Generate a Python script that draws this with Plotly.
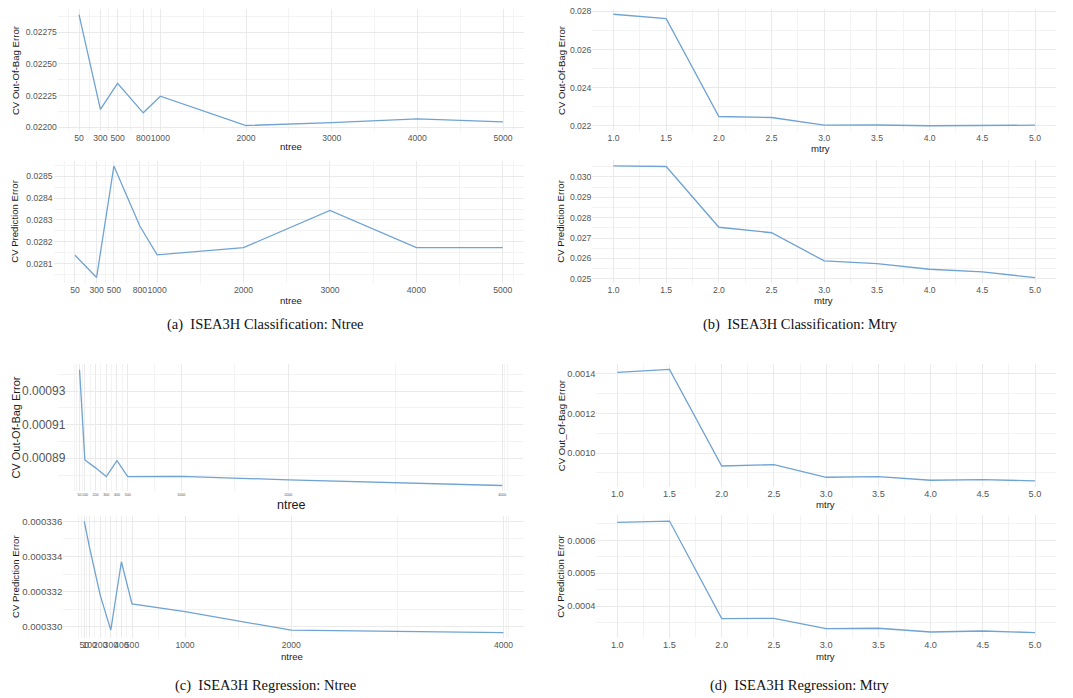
import plotly.graph_objects as go

W, H = 1073, 698

# ---------------- data ----------------
ntree_cls = [50, 300, 500, 800, 1000, 2000, 3000, 4000, 5000]
oob_ntree_cls = [0.022888, 0.022141, 0.022346, 0.022113, 0.022244, 0.022013, 0.022035, 0.022066, 0.022042]
pred_ntree_cls = [0.028138, 0.028036, 0.028547, 0.028272, 0.028140, 0.028173, 0.028344, 0.028173, 0.028173]

mtry = [1.0, 1.5, 2.0, 2.5, 3.0, 3.5, 4.0, 4.5, 5.0]
oob_mtry_cls = [0.027849, 0.027619, 0.022486, 0.022433, 0.022031, 0.022040, 0.022000, 0.022017, 0.022031]
pred_mtry_cls = [0.03054, 0.03051, 0.02753, 0.02726, 0.02588, 0.02575, 0.02547, 0.02534, 0.02506]

ntree_reg = [50, 100, 200, 300, 400, 500, 1000, 2000, 4000]
oob_ntree_reg = [0.0009427, 0.000889, 0.0008843, 0.0008791, 0.0008886, 0.0008791, 0.0008792, 0.0008772, 0.0008738]
pred_ntree_reg = [0.000336, 0.0003345, 0.0003318, 0.0003298, 0.0003337, 0.0003313, 0.00033085, 0.0003298, 0.00032966]

oob_mtry_reg = [0.0014065, 0.0014216, 0.0009348, 0.0009413, 0.000878, 0.000881, 0.000863, 0.000866, 0.0008595]
pred_mtry_reg = [0.0006545, 0.0006588, 0.0003618, 0.0003627, 0.0003315, 0.0003325, 0.0003212, 0.0003242, 0.0003194]

captions = ["(a)  ISEA3H Classification: Ntree", "(b)  ISEA3H Classification: Mtry",
            "(c)  ISEA3H Regression: Ntree", "(d)  ISEA3H Regression: Mtry"]

LINE = "#6FA3D3"
GRID = "#EAEAEA"
MINOR = "#F3F3F3"
TICKC = "#555555"
FONT = "Liberation Sans, Arial, sans-serif"


def expand(v):
    lo, hi = min(v), max(v)
    d = (hi - lo) * 0.05
    return [lo - d, hi + d]


def minor_breaks(b, lim):
    bd = b[1] - b[0]
    bb = list(b)
    if lim[0] < bb[0]:
        bb = [bb[0] - bd] + bb
    if lim[1] > bb[-1]:
        bb = bb + [bb[-1] + bd]
    out = []
    for a, c in zip(bb[:-1], bb[1:]):
        out += [a, (a + c) / 2]
    out.append(bb[-1])
    return [m for m in out if lim[0] <= m <= lim[1] and m not in b]


panels = [
    dict(x=ntree_cls, y=oob_ntree_cls, kind="ntree", box=(57.8, 524.2, 7.2, 129.6),
         ytitle="CV Out-Of-Bag Error", ytx=15, xtt=(291, 145.5), yfmt=".5f", dtick=0.00025, tick0=0.022,
         tfs=8.6, xfs=8.6, titfs=9.6, ystand=0),
    dict(x=ntree_cls, y=pred_ntree_cls, kind="ntree", box=(53.6, 524.2, 159.2, 282.3),
         ytitle="CV Prediction Error", ytx=15, xtt=(291, 299.5), yfmt=".4f", dtick=0.0001, tick0=0.028,
         tfs=8.6, xfs=8.6, titfs=9.6, ystand=0),
    dict(x=mtry, y=oob_mtry_cls, kind="mtry", box=(592.4, 1056.1, 6.7, 129.9),
         ytitle="CV Out-Of-Bag Error", ytx=561, xtt=(820, 147), yfmt=".3f", dtick=0.002, tick0=0.0,
         tfs=8.6, xfs=8.6, titfs=9.6, ystand=0),
    dict(x=mtry, y=pred_mtry_cls, kind="mtry", box=(592.4, 1056.1, 159.0, 282.4),
         ytitle="CV Prediction Error", ytx=561, xtt=(823, 300), yfmt=".3f", dtick=0.001, tick0=0.0,
         tfs=8.6, xfs=8.6, titfs=9.6, ystand=0),
    dict(x=ntree_reg, y=oob_ntree_reg, kind="ntree", box=(58.4, 523.3, 363.5, 491.4),
         ytitle="CV Out-Of-Bag Error", ytx=16, xtt=(291, 505), yfmt=".5f", dtick=0.00002, tick0=0.00089,
         tfs=12, xfs=3.6, titfs=11, ystand=-8),
    dict(x=ntree_reg, y=pred_ntree_reg, kind="ntree", box=(63.3, 524.4, 516.1, 638.9),
         ytitle="CV Prediction Error", ytx=15, xtt=(292, 657.5), yfmt=".6f", dtick=0.000002, tick0=0.00033,
         tfs=9.6, xfs=8.6, titfs=9.6, ystand=0),
    dict(x=mtry, y=oob_mtry_reg, kind="mtry", box=(596.4, 1055.9, 363.4, 486.6),
         ytitle="CV Out_Of-Bag Error", ytx=561, xtt=(825, 504.5), yfmt=".4f", dtick=0.0002, tick0=0.0,
         tfs=9.2, xfs=9.2, titfs=9.6, ystand=0),
    dict(x=mtry, y=pred_mtry_reg, kind="mtry", box=(596.4, 1055.9, 515.7, 638.9),
         ytitle="CV Prediction Error", ytx=561, xtt=(825, 657.5), yfmt=".4f", dtick=0.0001, tick0=0.0,
         tfs=9.2, xfs=9.2, titfs=9.6, ystand=0),
]

fig = go.Figure()
layout = {}
annotations = []

for i, p in enumerate(panels, start=1):
    sx = "" if i == 1 else str(i)
    xa, ya = "xaxis" + sx, "yaxis" + sx
    fig.add_trace(go.Scatter(x=p["x"], y=p["y"], mode="lines", line=dict(color=LINE, width=1.3),
                             xaxis="x" + sx, yaxis="y" + sx, showlegend=False, hoverinfo="x+y"))
    x0, x1, y0, y1 = p["box"]
    xr = expand(p["x"])
    yr = expand(p["y"])
    xd = dict(domain=[x0 / W, x1 / W], range=xr, anchor="y" + sx, showline=False, zeroline=False,
              ticks="", showgrid=True, gridcolor=GRID, gridwidth=1, tickangle=0,
              tickfont=dict(family=FONT, size=p["xfs"], color=TICKC), fixedrange=True)
    if p["kind"] == "ntree":
        xd.update(tickmode="array", tickvals=p["x"], ticktext=[str(v) for v in p["x"]],
                  minor=dict(tickmode="array", tickvals=minor_breaks(p["x"], xr), showgrid=True,
                             gridcolor=MINOR, gridwidth=0.8, ticks=""))
    else:
        xd.update(tickmode="linear", tick0=1.0, dtick=0.5, tickformat=".1f",
                  minor=dict(tick0=0.75, dtick=0.25, showgrid=True, gridcolor=MINOR, gridwidth=0.8, ticks=""))
    yd = dict(domain=[1 - y1 / H, 1 - y0 / H], range=yr, anchor="x" + sx, showline=False, zeroline=False,
              ticks="", showgrid=True, gridcolor=GRID, gridwidth=1, tickmode="linear",
              tick0=p["tick0"], dtick=p["dtick"], tickformat=p["yfmt"],
              tickfont=dict(family=FONT, size=p["tfs"], color=TICKC), fixedrange=True,
              minor=dict(tick0=p["tick0"] + p["dtick"] / 2, dtick=p["dtick"], showgrid=True,
                         gridcolor=MINOR, gridwidth=0.8, ticks=""))
    if p["ystand"]:
        yd["ticklabelstandoff"] = p["ystand"]
    layout[xa] = xd
    layout[ya] = yd
    annotations.append(dict(text=p["ytitle"], x=p["ytx"] / W, y=1 - ((y0 + y1) / 2) / H,
                            xref="paper", yref="paper", textangle=-90, showarrow=False,
                            xanchor="center", yanchor="middle",
                            font=dict(family=FONT, size=p["titfs"], color="#1A1A1A")))
    annotations.append(dict(text=p["kind"], x=p["xtt"][0] / W, y=1 - p["xtt"][1] / H,
                            xref="paper", yref="paper", showarrow=False,
                            xanchor="center", yanchor="middle",
                            font=dict(family=FONT, size=p["titfs"] + (1.5 if i == 5 else 0), color="#1A1A1A")))

cap_pos = [(265, 323.5), (800, 323.5), (265, 686), (800, 686)]
for txt, (cx, cy) in zip(captions, cap_pos):
    annotations.append(dict(text=txt.replace("  ", "&nbsp; "), x=cx / W, y=1 - cy / H, xref="paper", yref="paper",
                            showarrow=False, xanchor="center", yanchor="middle",
                            font=dict(family="Liberation Serif, Times New Roman, serif", size=14.5, color="#111111")))

layout["annotations"] = annotations
fig.update_layout(**layout)
fig.update_layout(width=W, height=H, margin=dict(l=0, r=0, t=0, b=0), autosize=False,
                  paper_bgcolor="white", plot_bgcolor="white",
                  font=dict(family=FONT))
fig.write_html("out.html", config={"displayModeBar": False},
               post_script="document.body.style.margin='0';document.body.style.padding='0';")
